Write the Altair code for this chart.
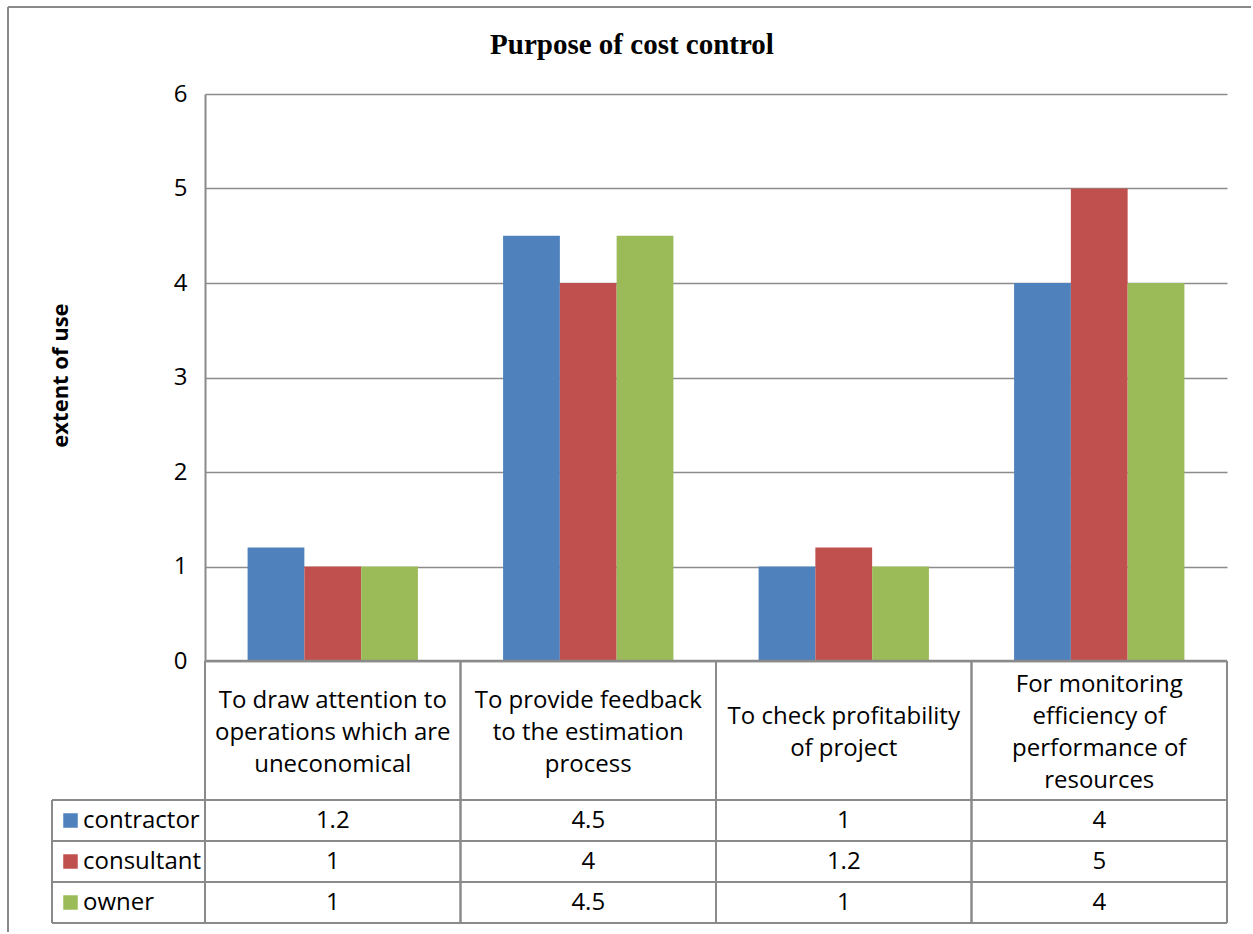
import altair as alt
import pandas as pd

# ---- data -----------------------------------------------------------------
TITLE = "Purpose of cost control"
Y_TITLE = "extent of use"
CATEGORY_LINES = [
    ["To draw attention to", "operations which are", "uneconomical"],
    ["To provide feedback", "to the estimation", "process"],
    ["To check profitability", "of project"],
    ["For monitoring", "efficiency of", "performance of", "resources"],
]
SERIES = ["contractor", "consultant", "owner"]
CONTRACTOR = [1.2, 4.5, 1, 4]
CONSULTANT = [1, 4, 1.2, 5]
OWNER = [1, 4.5, 1, 4]
COLORS = ["#4F81BD", "#C0504D", "#9BBB59"]
Y_TICKS = [0, 1, 2, 3, 4, 5, 6]

CATEGORIES = [" ".join(lines) for lines in CATEGORY_LINES]

records = []
for name, vals in zip(SERIES, [CONTRACTOR, CONSULTANT, OWNER]):
    for cat, v in zip(CATEGORIES, vals):
        records.append({"category": cat, "series": name, "value": v, "label": f"{v:g}"})
df = pd.DataFrame(records)
cat_df = pd.DataFrame({
    "category": CATEGORIES,
    "text": ["\n".join(l) for l in CATEGORY_LINES],
    "n": [len(l) for l in CATEGORY_LINES],
})
series_df = pd.DataFrame({"series": SERIES})

# ---- styling --------------------------------------------------------------
FONT = "Open Sans"
GRID = "#8c8c8c"
LINE = "#8a8a8a"
PLOT_W = 1022
BAR_H = 567
HEAD_H = 139
ROW_H = 123
LEFT_COL = 153
LINE_H = 32

x_scale = alt.Scale(domain=CATEGORIES, paddingInner=0, paddingOuter=0)
color_scale = alt.Scale(domain=SERIES, range=COLORS)
row_scale = alt.Scale(domain=SERIES, paddingInner=0, paddingOuter=0)
one = alt.Data(values=[{}])


def cat_x(**kw):
    return alt.X("category:N", scale=x_scale, axis=None, **kw)


def row_y(**kw):
    return alt.Y("series:N", scale=row_scale, axis=None, **kw)


# ---- bar panel ------------------------------------------------------------
bars = alt.Chart(df).mark_bar().encode(
    x=cat_x(),
    xOffset=alt.XOffset("series:N", scale=alt.Scale(domain=SERIES, paddingInner=0, paddingOuter=0.75)),
    y=alt.Y(
        "value:Q",
        scale=alt.Scale(domain=[0, 6], nice=False),
        axis=alt.Axis(
            values=Y_TICKS, grid=True, gridColor=GRID, gridWidth=1.5,
            domainColor=LINE, domainWidth=2, ticks=False,
            labelFont=FONT, labelFontSize=24, labelColor="black", labelPadding=18,
            title=Y_TITLE, titleFont=FONT, titleFontSize=22, titleFontWeight="bold",
            titleColor="black", titleAngle=-90, titleX=-145, titleY=281,
            titleBaseline="middle", titleAlign="center",
        ),
    ),
    color=alt.Color("series:N", scale=color_scale, legend=None),
)

title = alt.Chart(alt.Data(values=[{"t": TITLE}])).mark_text(
    font="Liberation Serif", fontSize=29, fontWeight="bold", baseline="middle", color="black"
).encode(text="t:N", x=alt.value(427), y=alt.value(-49))

frame_top = alt.Chart(one).mark_rule(color=LINE, strokeWidth=2).encode(
    x=alt.value(-197), x2=alt.value(1046), y=alt.value(-87)
)
frame_left = alt.Chart(one).mark_rule(color=LINE, strokeWidth=2).encode(
    x=alt.value(-197), y=alt.value(-87), y2=alt.value(838)
)

bar_panel = alt.layer(frame_top, frame_left, bars, title).properties(width=PLOT_W, height=BAR_H)

# ---- header row of the data table ------------------------------------------
head_top = alt.Chart(one).mark_rule(color=LINE, strokeWidth=2.5).encode(y=alt.value(0))
head_left = alt.Chart(cat_df).mark_rule(color=LINE, strokeWidth=2).encode(x=cat_x(bandPosition=0))
head_right = alt.Chart(cat_df).mark_rule(color=LINE, strokeWidth=2).encode(x=cat_x(bandPosition=1))
# wrapped labels, vertically centred in the header cell
head_text = alt.Chart(cat_df).transform_calculate(
    ty=f"{HEAD_H / 2 + 2.5} - (datum.n - 1) * {LINE_H / 2}"
).mark_text(
    font=FONT, fontSize=24, lineHeight=LINE_H, lineBreak="\n", baseline="middle", color="black"
).encode(x=cat_x(), y=alt.Y("ty:Q", scale=None, axis=None), text="text:N")

head_panel = alt.layer(head_top, head_left, head_right, head_text).properties(width=PLOT_W, height=HEAD_H)

# ---- value rows of the data table ------------------------------------------
row_top = alt.Chart(series_df).mark_rule(color=LINE, strokeWidth=2).encode(
    y=row_y(bandPosition=0), x=alt.value(-LEFT_COL), x2=alt.value(PLOT_W)
)
row_bottom = alt.Chart(series_df).mark_rule(color=LINE, strokeWidth=2).encode(
    y=row_y(bandPosition=1), x=alt.value(-LEFT_COL), x2=alt.value(PLOT_W)
)
col_left = alt.Chart(cat_df).mark_rule(color=LINE, strokeWidth=2).encode(x=cat_x(bandPosition=0))
col_right = alt.Chart(cat_df).mark_rule(color=LINE, strokeWidth=2).encode(x=cat_x(bandPosition=1))
key_edge = alt.Chart(one).mark_rule(color=LINE, strokeWidth=2).encode(x=alt.value(-LEFT_COL))
key_box = alt.Chart(series_df).mark_square(size=210, opacity=1, filled=True).encode(
    x=alt.value(-134.5), y=row_y(), color=alt.Color("series:N", scale=color_scale, legend=None)
)
key_text = alt.Chart(series_df).mark_text(
    font=FONT, fontSize=24, align="left", baseline="middle", color="black"
).encode(x=alt.value(-122), y=row_y(), text="series:N")
cell_text = alt.Chart(df).mark_text(
    font=FONT, fontSize=24, baseline="middle", color="black"
).encode(x=cat_x(), y=row_y(), text="label:N")

row_panel = alt.layer(
    row_top, row_bottom, col_left, col_right, key_edge, key_box, key_text, cell_text
).properties(width=PLOT_W, height=ROW_H)

chart = (
    alt.vconcat(bar_panel, head_panel, row_panel, spacing=0, bounds="flush")
    .properties(padding={"left": 7, "top": 6, "right": 0, "bottom": 0}, background="white")
    .configure_view(stroke=None)
)

chart.save("out.html", embed_options={"renderer": "svg", "actions": False})
